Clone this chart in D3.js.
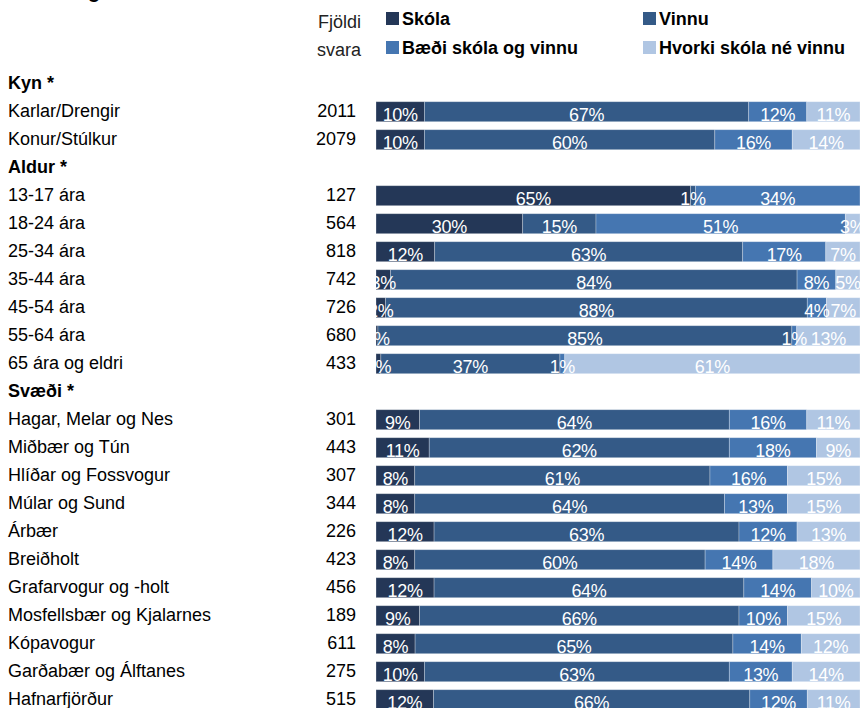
<!DOCTYPE html>
<html>
<head>
<meta charset="utf-8">
<script src="https://cdn.jsdelivr.net/npm/d3@7"></script>
<style>
  html, body { margin: 0; padding: 0; background: #fff; }
  svg { display: block; font-family: "Liberation Sans", Arial, sans-serif; }
</style>
</head>
<body>
<svg id="chart" width="861" height="708"></svg>
<script>
// ---- data ----
const title = "Í skóla og/eða vinnu";
const seriesNames = ["Skóla", "Vinnu", "Bæði skóla og vinnu", "Hvorki skóla né vinnu"];
const seriesColors = ["#243757", "#345a87", "#4576b1", "#b0c6e3"];
const headers = ["Kyn *", "Aldur *", "Svæði *"];
const rowLabels = [
  "Kyn *", "Karlar/Drengir", "Konur/Stúlkur",
  "Aldur *", "13-17 ára", "18-24 ára", "25-34 ára", "35-44 ára", "45-54 ára", "55-64 ára", "65 ára og eldri",
  "Svæði *", "Hagar, Melar og Nes", "Miðbær og Tún", "Hlíðar og Fossvogur", "Múlar og Sund", "Árbær",
  "Breiðholt", "Grafarvogur og -holt", "Mosfellsbær og Kjalarnes", "Kópavogur", "Garðabær og Álftanes", "Hafnarfjörður"
];
const categories = [
  "Karlar/Drengir", "Konur/Stúlkur",
  "13-17 ára", "18-24 ára", "25-34 ára", "35-44 ára", "45-54 ára", "55-64 ára", "65 ára og eldri",
  "Hagar, Melar og Nes", "Miðbær og Tún", "Hlíðar og Fossvogur", "Múlar og Sund", "Árbær",
  "Breiðholt", "Grafarvogur og -holt", "Mosfellsbær og Kjalarnes", "Kópavogur", "Garðabær og Álftanes", "Hafnarfjörður"
];
const counts = [2011, 2079, 127, 564, 818, 742, 726, 680, 433, 301, 443, 307, 344, 226, 423, 456, 189, 611, 275, 515];
const skola  = [10, 10, 65, 30, 12, 3, 2, 0.4, 1, 9, 11, 8, 8, 12, 8, 12, 9, 8, 10, 12];
const vinnu  = [67, 60, 1, 15, 63, 84, 88, 85, 37, 64, 62, 61, 64, 63, 60, 64, 66, 65, 63, 66];
const baedi  = [12, 16, 34, 51, 17, 8, 4, 1, 1, 16, 18, 16, 13, 12, 14, 14, 10, 14, 13, 12];
const hvorki = [11, 14, 0, 3, 7, 5, 7, 13, 61, 11, 9, 15, 15, 13, 18, 10, 15, 12, 14, 11];

// ---- build table ----
const keys = ["skola", "vinnu", "baedi", "hvorki"];
const table = categories.map((c, i) => ({
  cat: c, n: counts[i], skola: skola[i], vinnu: vinnu[i], baedi: baedi[i], hvorki: hvorki[i]
}));
const stacked = d3.stack().keys(keys).offset(d3.stackOffsetExpand)(table);

const svg = d3.select("#chart");
const barLeft = 376, barRight = 860;

const y = d3.scaleBand().domain(rowLabels).range([69.7, 69.7 + 28 * rowLabels.length])
  .paddingInner(8 / 28).paddingOuter(4 / 28);
const x = d3.scaleLinear().domain([0, 1]).range([barLeft, barRight]);
const color = d3.scaleOrdinal().domain(keys).range(seriesColors);

// title (cut at the top as in the reference)
svg.append("text").attr("x", 8).attr("y", -2)
  .attr("font-size", 20).attr("font-weight", "bold").attr("fill", "#000").text(title);

// legend
svg.append("text").attr("x", 361).attr("y", 28).attr("text-anchor", "end")
  .attr("font-size", 18).attr("fill", "#222").text("Fjöldi");
svg.append("text").attr("x", 361).attr("y", 56).attr("text-anchor", "end")
  .attr("font-size", 18).attr("fill", "#222").text("svara");
const legPos = [[386, 12], [643, 12], [386, 41], [643, 41]];
const leg = svg.append("g").selectAll("g").data(keys).join("g")
  .attr("transform", (d, i) => `translate(${legPos[i][0]},${legPos[i][1]})`);
leg.append("rect").attr("width", 13).attr("height", 13).attr("fill", d => color(d));
leg.append("text").attr("x", 16).attr("y", 13).attr("font-size", 18).attr("font-weight", "bold")
  .attr("fill", "#000").text((d, i) => seriesNames[i]);

// row labels
svg.append("g").selectAll("text").data(rowLabels).join("text")
  .attr("x", 8)
  .attr("y", d => y(d) + y.bandwidth() / 2 + 5.5)
  .attr("font-size", 18)
  .attr("font-weight", d => headers.includes(d) ? "bold" : "normal")
  .attr("fill", "#000")
  .text(d => d);

// counts
svg.append("g").selectAll("text").data(table).join("text")
  .attr("x", 356).attr("text-anchor", "end")
  .attr("y", d => y(d.cat) + y.bandwidth() / 2 + 5.5)
  .attr("font-size", 18).attr("fill", "#000")
  .text(d => d.n);

// bars
svg.append("defs").append("clipPath").attr("id", "barclip")
  .append("rect").attr("x", barLeft).attr("y", 0).attr("width", 861 - barLeft).attr("height", 708);

const layers = svg.append("g").attr("clip-path", "url(#barclip)")
  .selectAll("g").data(stacked).join("g").attr("fill", d => color(d.key));
layers.selectAll("rect").data(d => d).join("rect")
  .attr("x", d => x(d[0]))
  .attr("y", d => y(d.data.cat))
  .attr("width", d => Math.max(0, x(d[1]) - x(d[0])))
  .attr("height", y.bandwidth())
  .attr("stroke", "#ffffff").attr("stroke-opacity", 0.35).attr("stroke-width", 0.8);

// value labels
const labelG = svg.append("g").attr("clip-path", "url(#barclip)");
stacked.forEach(layer => {
  labelG.append("g").selectAll("text")
    .data(layer.filter(d => d.data[layer.key] > 0))
    .join("text")
    .attr("x", d => (x(d[0]) + x(d[1])) / 2)
    .attr("y", d => y(d.data.cat) + y.bandwidth() - 0.5)
    .attr("text-anchor", "middle")
    .attr("font-size", 18)
    .attr("letter-spacing", -0.3)
    .attr("fill", "#ffffff")
    .text(d => Math.round(d.data[layer.key]) + "%");
});
</script>
</body>
</html>
